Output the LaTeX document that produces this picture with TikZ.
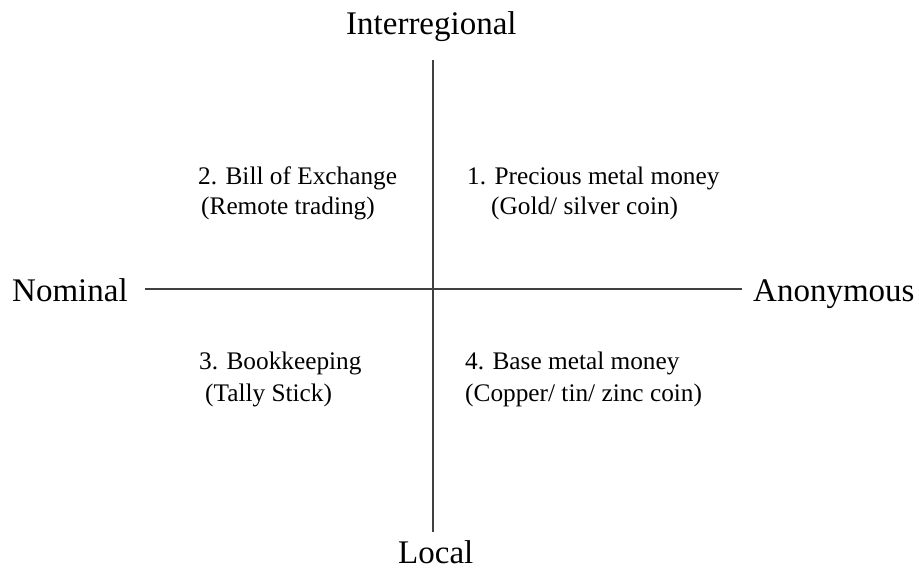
\documentclass[tikz,border=0pt]{standalone}
\usepackage{fontspec}
\setmainfont{Liberation Serif}
\begin{document}
\begin{tikzpicture}[x=1pt,y=-1pt,
  axislabel/.style={inner sep=0pt,anchor=base west,font=\fontsize{33}{38}\selectfont},
  itemtext/.style={inner sep=0pt,anchor=base west,font=\fontsize{25.3}{30}\selectfont},
  axisline/.style={draw=black!75,line width=1.4pt}]
\useasboundingbox[fill=white] (0,0) rectangle (919,569);
% axis end points
\coordinate (top) at (433,60);
\coordinate (bottom) at (433,532);
\coordinate (left) at (145,289);
\coordinate (right) at (742,289);
\draw[axisline] (top) -- (bottom);
\draw[axisline] (left) -- (right);
% axis labels
\node[axislabel] (inter) at (346,35) {Interregional};
\node[axislabel] (local) at (398,563) {Local};
\node[axislabel] (nominal) at (12,302) {Nominal};
\node[axislabel] (anon) at (753,302) {Anonymous};
% quadrant texts
\node[itemtext] (q2a) at (198,185) {2. Bill of Exchange};
\node[itemtext] (q2b) at (201,215) {(Remote trading)};
\node[itemtext] (q1a) at (467,185) {1. Precious metal money};
\node[itemtext] (q1b) at (491,215) {(Gold/ silver coin)};
\node[itemtext] (q3a) at (199,370) {3. Bookkeeping};
\node[itemtext] (q3b) at (205,402) {(Tally Stick)};
\node[itemtext] (q4a) at (465,370) {4. Base metal money};
\node[itemtext] (q4b) at (465,402) {(Copper/ tin/ zinc coin)};
\end{tikzpicture}
\end{document}
